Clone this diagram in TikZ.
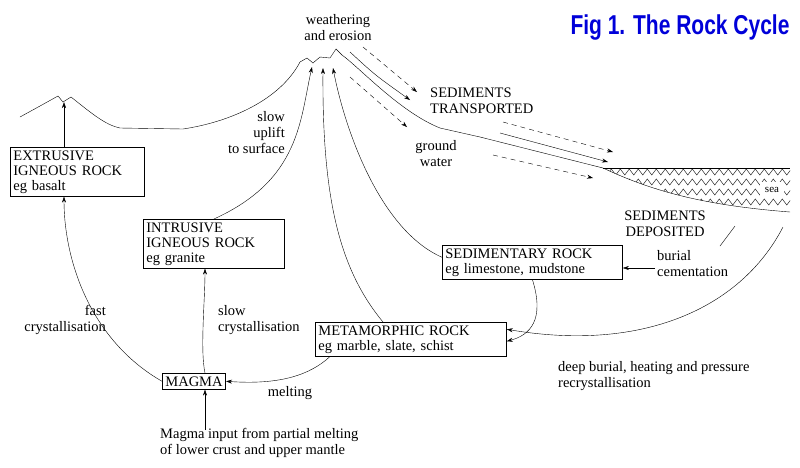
\documentclass[tikz,border=0pt]{standalone}
\usepackage{fontspec}
\setmainfont{Liberation Serif}
\newfontfamily\titlefont{Liberation Sans}
\usetikzlibrary{arrows.meta,decorations.pathmorphing}
\begin{document}
\begin{tikzpicture}[x=1pt,y=-1pt,
  box/.style={draw,thick,align=left,inner sep=3pt,font=\fontsize{14.5}{15}\selectfont},
  lbl/.style={font=\fontsize{14.5}{16}\selectfont,inner sep=0pt},
  arr/.style={-{Stealth[length=6pt,width=4pt]},thin},
  dar/.style={-{Stealth[length=6pt,width=4pt]},thin,dash pattern=on 5pt off 4pt}]
\useasboundingbox (0,0) rectangle (800,467);
% title
\node[text=blue!85!black,font=\titlefont\bfseries\fontsize{21}{21}\selectfont] (title) at (680,27) {\scalebox{1}[1.3]{Fig 1. The Rock Cycle}};
% landscape
\draw[thin] (20,117) -- (40,106) -- (58,96) -- (63,102) -- (71,97) .. controls (90,112) and (105,125) .. (120,128) -- (183,129) .. controls (230,122) and (280,100) .. (300,62) -- (307,58) -- (313,63) -- (320,57) -- (330,58) -- (336,49) -- (342,55) .. controls (360,68) and (400,112) .. (440,128) -- (480,137) -- (603,168);
% sea
\begin{scope}
\clip (603,168) -- (790,168) -- (790,212) .. controls (700,205) and (650,190) .. (603,168) -- cycle;
\foreach \yy in {172,182,192,202}
  \draw[thin,decorate,decoration={zigzag,segment length=9pt,amplitude=3pt}] (600,\yy) -- (795,\yy);
\fill[white] (760,182) rectangle (784,198);
\end{scope}
\draw[thin] (603,168) -- (790,168);
\draw[thin] (603,168) .. controls (650,190) and (700,205) .. (790,212);
\node[lbl,font=\fontsize{11}{11}\selectfont] (sea) at (772,190) {sea};
% boxes
\node[box,anchor=north west,text width=128pt] (ext) at (10,147) {EXTRUSIVE\\IGNEOUS ROCK\\eg basalt};
\node[box,anchor=north west,text width=135pt] (int) at (143,219) {INTRUSIVE\\IGNEOUS ROCK\\eg granite};
\node[box,anchor=north west,text width=174pt] (sed) at (442,245) {SEDIMENTARY ROCK\\eg limestone, mudstone};
\node[box,anchor=north west,text width=185pt] (met) at (315,322) {METAMORPHIC ROCK\\eg marble, slate, schist};
\node[box,anchor=north west] (mag) at (162,373) {MAGMA};
% coordinates
\coordinate (p0) at (64,102);
\coordinate (p1) at (312,67);
\coordinate (p2) at (323,68);
\coordinate (p3) at (333,68);
\coordinate (inp) at (205,430);
\coordinate (bc) at (655,268);
\coordinate (seaend) at (783,227);
% texts
\node[lbl,align=center] (we) at (338,28) {weathering\\and erosion};
\node[lbl,align=left,anchor=west] (st) at (430,101) {SEDIMENTS\\TRANSPORTED};
\node[lbl,align=center] (gw) at (436,154) {ground\\water};
\node[lbl,align=right,anchor=east] (su) at (285,133) {slow\\uplift\\to surface};
\node[lbl,align=center] (sd) at (665,224) {SEDIMENTS\\DEPOSITED};
\node[lbl,align=left,anchor=west] (bur) at (657,264) {burial\\cementation};
\node[lbl,align=right,anchor=east] (fc) at (106,320) {fast\\crystallisation};
\node[lbl,align=left,anchor=west] (sc) at (218,320) {slow\\crystallisation};
\node[lbl] (mel) at (290,393) {melting};
\node[lbl,align=left,anchor=west] (dbh) at (558,376) {deep burial, heating and pressure\\recrystallisation};
\node[lbl,align=left,anchor=north west] (mi) at (160,428) {Magma input from partial melting\\of lower crust and upper mantle};
% connectors
\draw[arr] (ext.north -| p0) -- (p0);
\draw[arr] (int.north) .. controls (300,180) and (300,120) .. (p1);
\draw[arr] (met.north west) ++(68,0) .. controls (340,270) and (322,200) .. (p2);
\draw[arr] (sed.west) ++(0,-5) .. controls (380,230) and (345,130) .. (p3);
\draw[arr] (mag.west) .. controls (90,340) and (64,260) .. (ext.south -| p0);
\draw[arr] (mag.north -| inp) .. controls (200,350) and (205,300) .. (int.south -| inp);
\draw[arr] (met.south west) ++(15,0) .. controls (310,375) and (280,385) .. (mag.east);
\draw[arr] (sed.south) .. controls (545,320) and (530,335) .. ([yshift=-2pt]met.east);
\draw[arr] (seaend) .. controls (740,310) and (640,352) .. ([yshift=10pt]met.east);
\draw[arr] (bc) -- (sed.east |- bc);
\draw[arr] (inp) -- (mag.south -| inp);
\draw[thin] (720,246) -- (735,226);
% sediment arrows
\coordinate (a1s) at (363,47); \coordinate (a1e) at (417,92);
\coordinate (a2s) at (350,52); \coordinate (a2e) at (410,100);
\coordinate (a3s) at (350,77); \coordinate (a3e) at (407,127);
\coordinate (b1s) at (503,122); \coordinate (b1e) at (613,152);
\coordinate (b2s) at (500,133); \coordinate (b2e) at (608,162);
\coordinate (b3s) at (493,155); \coordinate (b3e) at (593,178);
\draw[dar] (a1s) -- (a1e);
\draw[arr] (a2s) .. controls (375,75) .. (a2e);
\draw[dar] (a3s) -- (a3e);
\draw[dar] (b1s) -- (b1e);
\draw[arr] (b2s) -- (b2e);
\draw[dar] (b3s) -- (b3e);
\end{tikzpicture}
\end{document}
